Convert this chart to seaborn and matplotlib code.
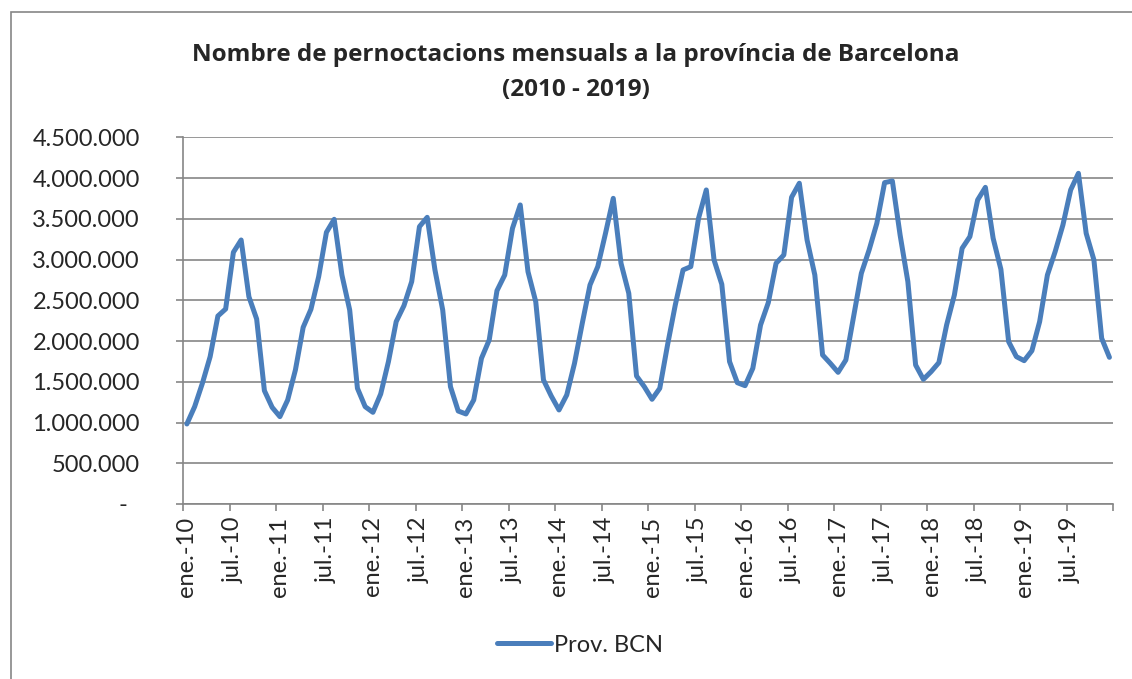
import numpy as np
import pandas as pd
import matplotlib
matplotlib.use('Agg')
import matplotlib.pyplot as plt
import seaborn as sns
from matplotlib.ticker import FixedLocator, FuncFormatter
from matplotlib.patches import Rectangle

# monthly overnight stays, Barcelona province
y2010 = [982000, 1194000, 1481000, 1808000, 2307000, 2393000, 3089000, 3240000, 2544000, 2270000, 1391000, 1186000]
y2011 = [1072000, 1276000, 1645000, 2168000, 2389000, 2790000, 3334000, 3494000, 2810000, 2381000, 1420000, 1194000]
y2012 = [1125000, 1350000, 1747000, 2238000, 2434000, 2729000, 3404000, 3518000, 2872000, 2381000, 1440000, 1141000]
y2013 = [1105000, 1276000, 1788000, 2013000, 2618000, 2810000, 3383000, 3670000, 2851000, 2483000, 1522000, 1325000]
y2014 = [1154000, 1338000, 1726000, 2217000, 2688000, 2913000, 3322000, 3751000, 2954000, 2586000, 1571000, 1440000]
y2015 = [1285000, 1420000, 1951000, 2442000, 2872000, 2913000, 3506000, 3854000, 2995000, 2696000, 1747000, 1489000]
y2016 = [1452000, 1665000, 2197000, 2471000, 2954000, 3056000, 3764000, 3936000, 3240000, 2810000, 1829000, 1726000]
y2017 = [1616000, 1767000, 2299000, 2831000, 3117000, 3445000, 3944000, 3964000, 3301000, 2729000, 1706000, 1530000]
y2018 = [1624000, 1735000, 2197000, 2565000, 3138000, 3281000, 3731000, 3886000, 3261000, 2880000, 1992000, 1808000]
y2019 = [1759000, 1881000, 2238000, 2810000, 3097000, 3424000, 3854000, 4058000, 3322000, 2995000, 2033000, 1800000]

years = ['10', '11', '12', '13', '14', '15', '16', '17', '18', '19']
tick_labels = [f'{m}-{y}' for y in years for m in ('ene.', 'jul.')]

values = y2010 + y2011 + y2012 + y2013 + y2014 + y2015 + y2016 + y2017 + y2018 + y2019
df = pd.DataFrame({'mes': np.arange(len(values)), 'Prov. BCN': values})

sns.set_style('white')
plt.rcParams['font.family'] = ['Lato', 'DejaVu Sans']

W, H = 1132, 679
fig = plt.figure(figsize=(W / 100, H / 100), dpi=100)
ax = fig.add_axes([183 / W, 1 - 504 / H, (1113.3 - 183) / W, (504 - 137.3) / H])

grey = '#868686'
blue = '#4A7EBB'

sns.lineplot(data=df, x='mes', y='Prov. BCN', ax=ax, color=blue, linewidth=3.6,
             label='Prov. BCN', legend=False, solid_joinstyle='round', solid_capstyle='round')

ax.set_xlim(-0.5, len(values) - 0.5)
ax.set_ylim(0, 4500000)
ax.set_yticks(np.arange(0, 4500001, 500000))
ax.yaxis.set_major_formatter(FuncFormatter(
    lambda v, p: '-  ' if v == 0 else f'{int(v):,}'.replace(',', '.')))
ax.grid(axis='y', color=grey, linewidth=1.2)
ax.set_axisbelow(True)

# tick marks between categories, labels on categories
ax.xaxis.set_major_locator(FixedLocator(np.arange(-0.5, len(values), 6)))
ax.xaxis.set_major_formatter(FuncFormatter(lambda v, p: ''))
ax.xaxis.set_minor_locator(FixedLocator(np.arange(0, len(values), 6)))
ax.set_xticklabels(tick_labels, minor=True, rotation=90, fontsize=17)
ax.tick_params(axis='x', which='major', length=5, width=1.2, color=grey, bottom=True)
ax.tick_params(axis='x', which='minor', length=0, pad=9)
ax.tick_params(axis='y', length=5, width=1.2, color=grey, left=True, labelsize=17, pad=26)

for s in ['top', 'right']:
    ax.spines[s].set_visible(False)
for s in ['left', 'bottom']:
    ax.spines[s].set_color(grey)
    ax.spines[s].set_linewidth(1.2)
ax.set_xlabel('')
ax.set_ylabel('')

fig.text(576 / W, 1 - 55 / H, 'Nombre de pernoctacions mensuals a la província de Barcelona',
         ha='center', va='center', fontsize=17.5, fontweight='bold', family=['Open Sans', 'DejaVu Sans'])
fig.text(576 / W, 1 - 90 / H, '(2010 - 2019)',
         ha='center', va='center', fontsize=17.5, fontweight='bold', family=['Open Sans', 'DejaVu Sans'])

fig.legend(handles=ax.get_lines()[:1], labels=['Prov. BCN'], loc='center',
           bbox_to_anchor=(580 / W, 1 - 645 / H), frameon=False, fontsize=17,
           handlelength=2.3, handletextpad=0.1)

fig.patches.append(Rectangle((11 / W, -0.05), 1.2, 1 - 12 / H + 0.05, transform=fig.transFigure,
                             fill=False, edgecolor=grey, linewidth=1.2))

fig.savefig('out.png', dpi=100)
